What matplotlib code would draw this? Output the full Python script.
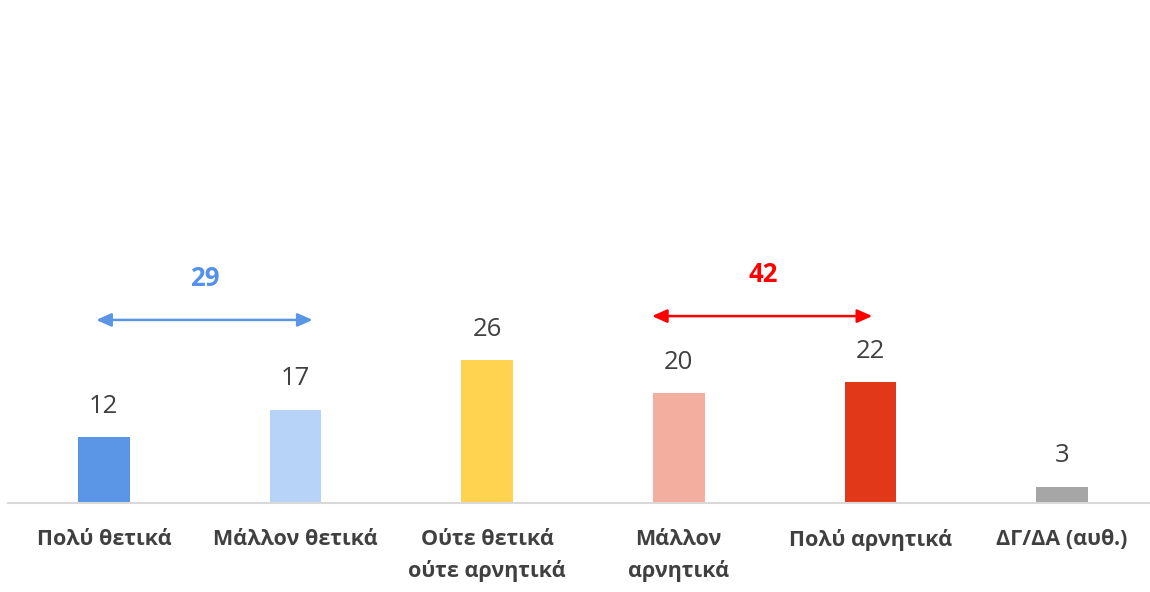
import matplotlib
matplotlib.use("Agg")
import matplotlib.pyplot as plt

categories = ["Πολύ θετικά", "Μάλλον θετικά", "Ούτε θετικά\nούτε αρνητικά",
              "Μάλλον\nαρνητικά", "Πολύ αρνητικά", "ΔΓ/ΔΑ (αυθ.)"]
values = [12, 17, 26, 20, 22, 3]
colors = ["#5B95E6", "#B7D3F7", "#FFD24F", "#F4AE9F", "#E2381A", "#A6A6A6"]

positive_total = 29
negative_total = 42

plt.rcParams['font.family'] = ['Open Sans', 'DejaVu Sans']

fig = plt.figure(figsize=(11.5, 5.92), dpi=100)
ax = fig.add_axes([8/1150, 1 - 503/592, 1 - 8/1150, 503/592])
x = list(range(len(categories)))
ax.bar(x, values, width=0.27, color=colors, zorder=2)
ax.set_xlim(-0.5, 5.459)
ax.set_ylim(0, 91.5)

for xi, v in zip(x, values):
    ax.text(xi, v + 3.3, str(v), ha='center', va='bottom', fontsize=18.5, color='#404040')

for s in ['top', 'right', 'left']:
    ax.spines[s].set_visible(False)
ax.spines['bottom'].set_color('#D9D9D9')
ax.spines['bottom'].set_linewidth(1.5)
ax.set_yticks([])
ax.set_xticks(x)
ax.set_xticklabels(categories, fontsize=15.5, fontweight='bold', color='#404040', linespacing=1.55)
ax.tick_params(axis='x', length=0, pad=19)

# bracket arrows
ax.annotate('', xy=(-0.04, 33.3), xytext=(1.09, 33.3),
            arrowprops=dict(arrowstyle='<|-|>,head_length=0.9,head_width=0.4', color='#5B95E6', lw=1.8,
                            shrinkA=0, shrinkB=0))
ax.text(0.525, 40.9, str(positive_total), ha='center', va='center', fontsize=18.5,
        fontweight='bold', color='#5591EB')
ax.annotate('', xy=(2.86, 34.0), xytext=(4.01, 34.0),
            arrowprops=dict(arrowstyle='<|-|>,head_length=0.9,head_width=0.4', color='#FF0000', lw=1.8,
                            shrinkA=0, shrinkB=0))
ax.text(3.44, 41.6, str(negative_total), ha='center', va='center', fontsize=18.5,
        fontweight='bold', color='#FF0000')

fig.savefig("out.png", dpi=100)
